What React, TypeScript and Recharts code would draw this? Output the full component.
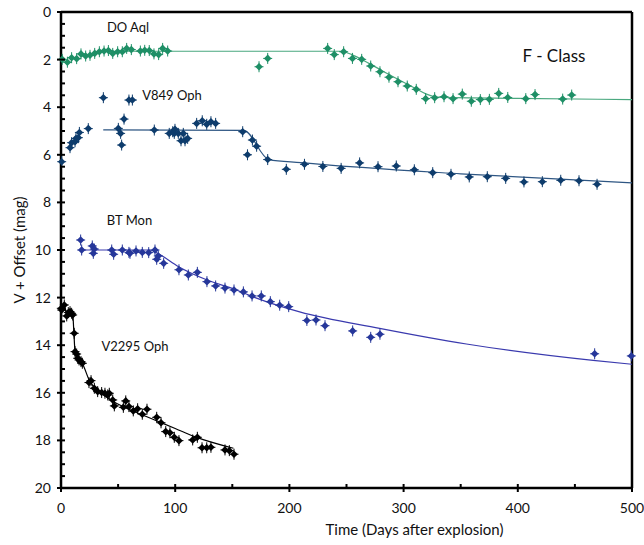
import React from "react";
import { ComposedChart, XAxis, YAxis, Scatter, Line, ReferenceLine, ReferenceDot, Label } from "recharts";

// ---- data: [day, magnitude + offset] ----
const doAqlObs: number[][] = [
  [1.1, 1.99], [5.6, 2.11], [9.3, 1.92], [13.7, 1.96], [17.5, 1.76], [21.6, 1.85], [25.4, 1.82],
  [29.5, 1.74], [33.6, 1.67], [37.7, 1.64], [41.5, 1.62], [45.3, 1.74], [49.6, 1.67], [53.7, 1.67],
  [57.5, 1.53], [61.6, 1.58], [69.5, 1.64], [73.3, 1.61], [77.3, 1.62], [81.4, 1.76], [85.5, 1.79],
  [89.0, 1.53], [93.4, 1.64], [173.4, 2.3], [181.0, 1.95], [233.5, 1.53], [239.3, 1.79], [247.5, 1.67],
  [255.2, 1.95], [263.3, 1.99], [271.2, 2.27], [279.3, 2.51], [287.2, 2.74], [295.1, 2.93], [303.2, 3.11],
  [311.1, 3.25], [319.3, 3.64], [327.2, 3.6], [335.4, 3.56], [343.3, 3.64], [351.4, 3.45], [359.3, 3.75],
  [367.2, 3.68], [375.1, 3.67], [383.3, 3.42], [391.2, 3.59], [407.0, 3.64], [415.1, 3.47], [439.3, 3.66],
  [447.2, 3.49],
];
const doAqlFit: number[][] = [
  [35, 1.65], [245, 1.65], [255, 1.8], [270, 2.17], [290, 2.7], [310, 3.2], [320, 3.45], [330, 3.58],
  [400, 3.63], [500, 3.68],
];

const v849Obs: number[][] = [
  [0.6, 6.29], [7.9, 5.7], [9.3, 5.49], [12.3, 5.45], [13.1, 5.31], [15.2, 5.28], [16.1, 5.06],
  [23.9, 4.9], [37.1, 3.6], [50.2, 4.89], [52.2, 5.1], [53.1, 5.59], [55.2, 4.5], [59.5, 3.7],
  [62.5, 3.7], [81.7, 4.96], [94.8, 5.1], [97.8, 5.03], [99.8, 4.93], [99.2, 5.1], [102.7, 5.1],
  [105.1, 5.41], [107.1, 5.1], [108.6, 5.41], [110.9, 5.31], [118.8, 4.68], [123.7, 4.57], [127.6, 4.72],
  [131.3, 4.61], [135.4, 4.68], [159.1, 5.03], [163.3, 6.0], [167.6, 5.38], [171.3, 5.64], [181.0, 6.2],
  [197.3, 6.61], [213.2, 6.4], [229.3, 6.49], [245.3, 6.57], [261.5, 6.34], [277.6, 6.5], [293.6, 6.47],
  [309.4, 6.63], [325.5, 6.75], [341.5, 6.82], [357.5, 6.93], [373.3, 6.92], [389.4, 6.99], [405.4, 7.14],
  [421.5, 7.13], [437.6, 7.07], [453.6, 7.09], [469.4, 7.24],
];
const v849Fit: number[][] = [
  [37, 4.95], [160, 4.97], [182, 6.2], [210, 6.33], [350, 6.8], [500, 7.18],
];

const btMonObs: number[][] = [
  [17.2, 9.58], [18.1, 10.0], [27.4, 9.83], [28.3, 10.14], [29.2, 9.96], [44.4, 10.0], [46.1, 10.18],
  [53.7, 10.0], [59.5, 10.1], [60.4, 10.14], [65.7, 10.04], [71.2, 10.1], [76.8, 10.11], [82.3, 10.0],
  [83.8, 10.39], [85.2, 10.25], [89.9, 10.56], [103.3, 10.83], [111.5, 11.05], [119.4, 10.94],
  [127.8, 11.33], [135.4, 11.51], [143.6, 11.6], [151.5, 11.68], [159.7, 11.76], [167.3, 11.93],
  [175.4, 11.93], [183.3, 12.17], [191.5, 12.32], [199.4, 12.38], [215.3, 12.96], [223.3, 12.94],
  [231.2, 13.18], [255.4, 13.4], [271.2, 13.67], [279.3, 13.54], [467.3, 14.36], [499.4, 14.45],
];
const btMonFit: number[][] = [
  [18, 10.0], [78, 10.0], [85, 10.15], [103, 10.7], [128, 11.26], [152, 11.65], [170, 12.0],
  [209, 12.6], [279, 13.29], [355, 13.95], [466, 14.64], [500, 14.8],
];

const v2295Obs: number[][] = [
  [0.3, 12.45], [0.6, 12.52], [2.9, 12.31], [5.0, 12.77], [6.4, 12.63], [7.9, 12.59], [9.3, 12.66],
  [10.2, 12.73], [11.6, 13.5], [12.3, 14.27], [13.7, 14.37], [14.6, 14.55], [15.8, 14.62], [17.5, 14.69],
  [18.7, 14.76], [24.5, 15.57], [26.3, 15.49], [29.2, 15.81], [32.1, 15.95], [35.6, 15.99], [38.5, 16.02],
  [40.9, 16.09], [42.3, 16.02], [45.3, 16.3], [46.7, 16.55], [54.6, 16.61], [56.7, 16.34], [59.5, 16.58],
  [63.3, 16.76], [67.1, 16.67], [71.2, 16.9], [75.3, 16.69], [83.8, 17.03], [87.6, 17.26], [91.7, 17.63],
  [95.4, 17.68], [99.2, 17.87], [103.3, 18.01], [115.3, 17.98], [119.4, 17.87], [123.5, 18.31],
  [127.6, 18.31], [131.3, 18.29], [143.6, 18.4], [147.4, 18.43], [151.5, 18.58],
];
const v2295Fit: number[][] = [
  [0.3, 12.5], [3, 12.35], [5, 12.7], [8, 12.6], [10.3, 12.7], [11.2, 13.4], [12.3, 14.25], [15, 14.55],
  [19, 14.8], [25, 15.5], [35, 16.0], [47, 16.4], [60, 16.7], [82, 17.14], [100, 17.5], [117, 17.84],
  [151, 18.33],
];

const xTicks = [0, 50, 100, 150, 200, 250, 300, 350, 400, 450, 500];
const yTicks = Array.from({ length: 41 }, (_, i) => i * 0.5);

const toPts = (a: number[][]) => a.map(([x, y]) => ({ x, y }));

const FONT = "Lato, 'Open Sans', sans-serif";

const marker = (color: string) => (props: any) => {
  const { cx, cy } = props;
  if (cx == null || cy == null) return <g />;
  const r = 3.8;
  return (
    <g>
      <line x1={cx} x2={cx} y1={cy - 5.5} y2={cy + 5.5} stroke={color} strokeWidth={1} />
      <line x1={cx - 4.5} x2={cx + 4.5} y1={cy} y2={cy} stroke={color} strokeWidth={1} />
      <path d={`M${cx},${cy - r}L${cx + r},${cy}L${cx},${cy + r}L${cx - r},${cy}Z`} fill={color} />
    </g>
  );
};

const YTick = (props: any) => {
  const { x, y, payload } = props;
  const v = payload.value;
  const major = Math.abs(v % 2) < 1e-6;
  return (
    <g>
      <line x1={major ? x - 4 : x} x2={x + 4} y1={y} y2={y} stroke="#000" strokeWidth={2} />
      {major && (
        <text x={x - 10} y={y} dy={5} textAnchor="end" fontSize={14} fontFamily={FONT} fill="#111">
          {v}
        </text>
      )}
    </g>
  );
};

const XTick = (props: any) => {
  const { x, y, payload } = props;
  const v = payload.value;
  const major = v % 100 === 0;
  return (
    <g>
      <line x1={x} x2={x} y1={y - 4} y2={major ? y + 4 : y} stroke="#000" strokeWidth={2} />
      {major && (
        <text x={x} y={y} dy={25} textAnchor="middle" fontSize={14} fontFamily={FONT} fill="#111">
          {v}
        </text>
      )}
    </g>
  );
};

const GREEN = "#1e8f66";
const GREEN_LINE = "#4aa87f";
const DKBLUE = "#0e3c6c";
const DKBLUE_LINE = "#2e5683";
const BLUE = "#26379a";
const BLUE_LINE = "#3a3aae";

const labelStyle = (size: number) => ({ fontSize: size, fontFamily: FONT, fill: "#111" });

export default function App() {
  return (
    <div style={{ position: "absolute", left: 0, top: 0, background: "#fff" }}>
      <ComposedChart width={644} height={545} margin={{ top: 12, right: 12, left: 0, bottom: 0 }}>
        <XAxis
          dataKey="x"
          type="number"
          domain={[0, 500]}
          ticks={xTicks}
          interval={0}
          height={57}
          tickSize={0}
          tickMargin={0}
          tickLine={false}
          axisLine={{ stroke: "#000", strokeWidth: 2.5 }}
          tick={<XTick />}
        >
          <Label
            value="Time (Days after explosion)"
            position="insideBottom"
            offset={10}
            dx={68}
            style={{ fontSize: 15, fontFamily: FONT, fill: "#111" }}
          />
        </XAxis>
        <YAxis
          dataKey="y"
          type="number"
          domain={[0, 20]}
          reversed
          ticks={yTicks}
          interval={0}
          width={61}
          tickSize={0}
          tickMargin={0}
          tickLine={false}
          axisLine={{ stroke: "#000", strokeWidth: 2.5 }}
          tick={<YTick />}
        >
          <Label
            value="V + Offset (mag)"
            angle={-90}
            position="insideLeft"
            offset={20}
            style={{ fontSize: 15, fontFamily: FONT, fill: "#111", textAnchor: "middle" }}
          />
        </YAxis>
        <ReferenceLine y={0} stroke="#000" strokeWidth={2.5} />
        <ReferenceLine x={500} stroke="#000" strokeWidth={2.5} />

        <Line data={toPts(doAqlFit)} dataKey="y" type="monotone" stroke={GREEN_LINE} strokeWidth={1.2} dot={false} isAnimationActive={false} />
        <Line data={toPts(v849Fit)} dataKey="y" type="monotone" stroke={DKBLUE_LINE} strokeWidth={1.2} dot={false} isAnimationActive={false} />
        <Line data={toPts(btMonFit)} dataKey="y" type="monotone" stroke={BLUE_LINE} strokeWidth={1.2} dot={false} isAnimationActive={false} />
        <Line data={toPts(v2295Fit)} dataKey="y" type="monotone" stroke="#000" strokeWidth={1.2} dot={false} isAnimationActive={false} />

        <Scatter data={toPts(doAqlObs)} fill={GREEN} shape={marker(GREEN)} isAnimationActive={false} />
        <Scatter data={toPts(v849Obs)} fill={DKBLUE} shape={marker(DKBLUE)} isAnimationActive={false} />
        <Scatter data={toPts(btMonObs)} fill={BLUE} shape={marker(BLUE)} isAnimationActive={false} />
        <Scatter data={toPts(v2295Obs)} fill="#000" shape={marker("#000")} isAnimationActive={false} />

        <ReferenceDot x={58.7} y={0.63} r={0} stroke="none" label={{ value: "DO Aql", position: "center", ...labelStyle(13) }} />
        <ReferenceDot x={97.2} y={3.49} r={0} stroke="none" label={{ value: "V849 Oph", position: "center", ...labelStyle(13) }} />
        <ReferenceDot x={60} y={8.74} r={0} stroke="none" label={{ value: "BT Mon", position: "center", ...labelStyle(13) }} />
        <ReferenceDot x={64.8} y={14.03} r={0} stroke="none" label={{ value: "V2295 Oph", position: "center", ...labelStyle(13) }} />
        <ReferenceDot x={431.7} y={1.85} r={0} stroke="none" label={{ value: "F - Class", position: "center", ...labelStyle(17) }} />
      </ComposedChart>
    </div>
  );
}
